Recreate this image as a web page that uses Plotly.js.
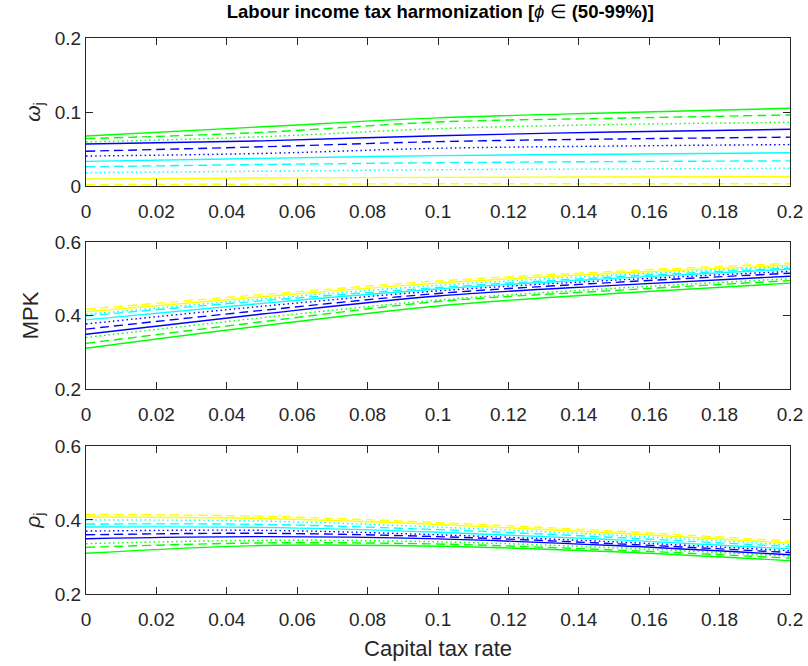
<!DOCTYPE html>
<html>
<head>
<meta charset="utf-8">
<script src="https://cdn.plot.ly/plotly-3.0.1.min.js"></script>
<style>html,body{margin:0;padding:0;background:#fff;}#chart{width:808px;height:666px;}</style>
</head>
<body>
<div id="chart"></div>
<script>
// Capital tax rate sample points
const taxRate = [0, 0.05, 0.1, 0.15, 0.2];

// Series names: colour group x line style
const seriesNames = [
  'green solid','green dashed','green dotted',
  'blue solid','blue dashed','blue dotted',
  'cyan solid','cyan dashed','cyan dotted',
  'yellow solid','yellow dashed'
];

// Panel 1: omega_j
const omegaGreenSolid   = [0.0676, 0.080, 0.092, 0.099, 0.105];
const omegaGreenDashed  = [0.064, 0.0725, 0.0865, 0.0915, 0.096];
const omegaGreenDotted  = [0.0595, 0.0666, 0.0775, 0.083, 0.086];
const omegaBlueSolid    = [0.0568, 0.061, 0.068, 0.073, 0.0766];
const omegaBlueDashed   = [0.047, 0.053, 0.060, 0.0635, 0.066];
const omegaBlueDotted   = [0.0405, 0.044, 0.051, 0.054, 0.056];
const omegaCyanSolid    = [0.0333, 0.0374, 0.041, 0.043, 0.045];
const omegaCyanDashed   = [0.026, 0.029, 0.0315, 0.033, 0.034];
const omegaCyanDotted   = [0.018, 0.020, 0.022, 0.023, 0.024];
const omegaYellowSolid  = [0.0095, 0.0108, 0.0117, 0.0122, 0.0126];
const omegaYellowDashed = [0.002, 0.0025, 0.003, 0.003, 0.003];

// Panel 2: MPK
const mpkGreenSolid   = [0.311, 0.372, 0.426, 0.460, 0.488];
const mpkGreenDashed  = [0.324, 0.383, 0.438, 0.468, 0.495];
const mpkGreenDotted  = [0.340, 0.394, 0.442, 0.474, 0.500];
const mpkBlueSolid    = [0.349, 0.404, 0.453, 0.482, 0.507];
const mpkBlueDashed   = [0.363, 0.414, 0.460, 0.490, 0.515];
const mpkBlueDotted   = [0.377, 0.425, 0.467, 0.496, 0.520];
const mpkCyanSolid    = [0.388, 0.433, 0.472, 0.501, 0.526];
const mpkCyanDashed   = [0.399, 0.440, 0.476, 0.505, 0.529];
const mpkCyanDotted   = [0.403, 0.445, 0.482, 0.510, 0.533];
const mpkYellowSolid  = [0.410, 0.451, 0.488, 0.515, 0.537];
const mpkYellowDashed = [0.417, 0.457, 0.494, 0.520, 0.542];

// Panel 3: rho_j
const rhoGreenSolid   = [0.310, 0.331, 0.329, 0.314, 0.290];
const rhoGreenDashed  = [0.326, 0.338, 0.335, 0.319, 0.297];
const rhoGreenDotted  = [0.336, 0.345, 0.341, 0.325, 0.302];
const rhoBlueSolid    = [0.3495, 0.355, 0.349, 0.331, 0.306];
const rhoBlueDashed   = [0.360, 0.364, 0.355, 0.336, 0.312];
const rhoBlueDotted   = [0.370, 0.372, 0.360, 0.341, 0.317];
const rhoCyanSolid    = [0.381, 0.380, 0.367, 0.347, 0.322];
const rhoCyanDashed   = [0.389, 0.388, 0.374, 0.353, 0.328];
const rhoCyanDotted   = [0.400, 0.397, 0.381, 0.359, 0.333];
const rhoYellowSolid  = [0.408, 0.404, 0.388, 0.365, 0.338];
const rhoYellowDashed = [0.415, 0.410, 0.393, 0.370, 0.343];

const xTickVals = [0, 0.02, 0.04, 0.06, 0.08, 0.1, 0.12, 0.14, 0.16, 0.18, 0.2];
const xTickText = ['0','0.02','0.04','0.06','0.08','0.1','0.12','0.14','0.16','0.18','0.2'];

const omegaSeries = [omegaGreenSolid, omegaGreenDashed, omegaGreenDotted, omegaBlueSolid, omegaBlueDashed, omegaBlueDotted, omegaCyanSolid, omegaCyanDashed, omegaCyanDotted, omegaYellowSolid, omegaYellowDashed];
const mpkSeries = [mpkGreenSolid, mpkGreenDashed, mpkGreenDotted, mpkBlueSolid, mpkBlueDashed, mpkBlueDotted, mpkCyanSolid, mpkCyanDashed, mpkCyanDotted, mpkYellowSolid, mpkYellowDashed];
const rhoSeries = [rhoGreenSolid, rhoGreenDashed, rhoGreenDotted, rhoBlueSolid, rhoBlueDashed, rhoBlueDotted, rhoCyanSolid, rhoCyanDashed, rhoCyanDotted, rhoYellowSolid, rhoYellowDashed];

const colorMap = {green:'#00ff00', blue:'#0000ff', cyan:'#00ffff', yellow:'#ffff00'};
const dashMap = {solid:'solid', dashed:'9px,5px', dotted:'1.5px,3px'};

const traces = [];
[[omegaSeries,'x','y'],[mpkSeries,'x2','y2'],[rhoSeries,'x3','y3']].forEach(([set, xa, ya]) => {
  set.forEach((vals, i) => {
    const [c, s] = seriesNames[i].split(' ');
    traces.push({
      x: taxRate, y: vals, xaxis: xa, yaxis: ya,
      type: 'scatter', mode: 'lines', name: seriesNames[i], showlegend: false,
      line: {color: colorMap[c], dash: dashMap[s], width: 1.4, shape: 'spline', smoothing: 1}
    });
  });
});

const font = {family: 'Liberation Sans, Arial, sans-serif', color: '#262626'};
function xax(anchor) {
  return {
    anchor: anchor, range: [0, 0.2], tickvals: xTickVals, ticktext: xTickText,
    ticks: 'inside', ticklen: 7, tickcolor: '#262626', tickwidth: 1,
    showline: true, linecolor: '#262626', linewidth: 1, mirror: 'ticks',
    showgrid: false, zeroline: false, tickfont: {size: 19}, ticklabelstandoff: 8
  };
}
function yax(anchor, domain, range, tv, title) {
  return {
    anchor: anchor, domain: domain, range: range, tickvals: tv,
    ticktext: tv.map(v => String(v)),
    ticks: 'inside', ticklen: 7, tickcolor: '#262626', tickwidth: 1,
    showline: true, linecolor: '#262626', linewidth: 1, mirror: 'ticks',
    showgrid: false, zeroline: false, tickfont: {size: 19},
    title: title
  };
}

const layout = {
  width: 808, height: 666,
  margin: {l: 86, r: 18, t: 38, b: 72},
  paper_bgcolor: '#ffffff', plot_bgcolor: '#ffffff',
  font: font,
  title: {text: '<b>Labour income tax harmonization [</b><i>ϕ</i> ∈ <b>(50-99%)]</b>', x: 0.545, xanchor: 'center', y: 0.982, yanchor: 'middle', font: {size: 18.5, color: '#000000'}},
  xaxis: xax('y'),
  yaxis: yax('x', [0.7338, 1], [0, 0.2], [0, 0.1, 0.2], {text: '<i>ω</i><sub>j</sub>', font: {size: 21}, standoff: 8}),
  xaxis2: xax('y2'),
  yaxis2: yax('x2', [0.3687, 0.6331], [0.2, 0.6], [0.2, 0.4, 0.6], {text: 'MPK', font: {size: 22}, standoff: 10}),
  xaxis3: Object.assign(xax('y3'), {title: {text: 'Capital tax rate', font: {size: 22}, standoff: 11}}),
  yaxis3: yax('x3', [0, 0.2662], [0.2, 0.6], [0.2, 0.4, 0.6], {text: '<i>ρ</i><sub>j</sub>', font: {size: 21}, standoff: 8})
};

Plotly.newPlot('chart', traces, layout, {staticPlot: true, displayModeBar: false});
</script>
</body>
</html>
